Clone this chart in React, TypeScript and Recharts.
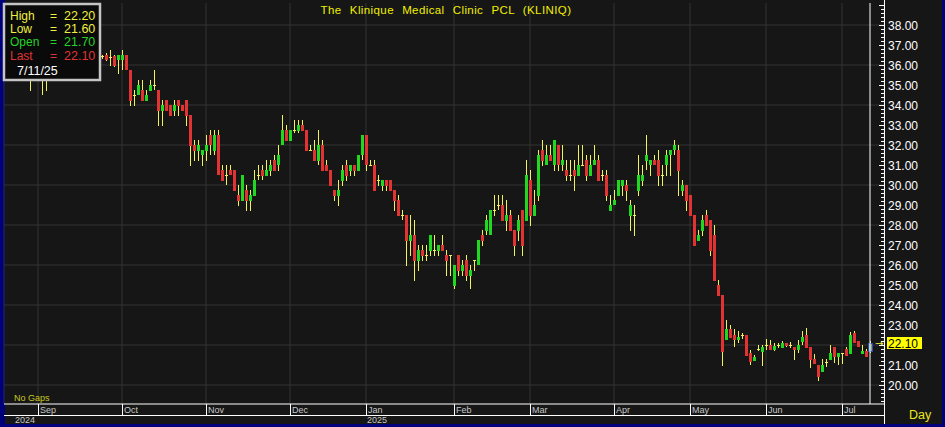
import { ComposedChart, Bar, XAxis, YAxis, CartesianGrid, ReferenceLine } from "recharts"

// daily candles, 2024-08 .. 2025-07-11 (one entry per trading day)
const opens = [
    35.8, 36.1, 36.3, 35.9, 35.7, 35.9, 35.8, 35.5, 35.75, 35.5,
    35.6, 35.8, 36.0, 35.9, 36.2, 36.4, 36.25, 36.0, 36.2, 36.5,
    36.3, 36.1, 36.3, 36.5, 36.45, 36.5, 36.4, 36.45, 36.25, 36.25,
    36.5, 35.75, 34.5, 34.5, 34.75, 34.2, 34.7, 35.0, 34.75, 33.7,
    34.25, 34.0, 33.7, 34.25, 34.0, 34.25, 33.5, 32.0, 31.7, 31.5,
    31.7, 32.5, 31.7, 32.5, 30.75, 30.5, 30.75, 30.75, 29.5, 29.2,
    29.75, 29.2, 29.45, 30.5, 30.75, 30.45, 30.7, 31.25, 31.0, 32.0,
    32.75, 32.2, 32.75, 32.7, 33.0, 32.75, 31.75, 31.75, 31.2, 32.0,
    31.0, 30.75, 29.75, 29.45, 30.2, 31.0, 30.7, 31.0, 30.7, 31.5,
    32.5, 31.0, 31.0, 30.25, 29.97, 30.25, 30.25, 29.75, 29.25, 28.5,
    28.5, 27.2, 27.5, 26.2, 26.75, 26.5, 26.7, 26.75, 26.7, 27.0,
    26.5, 26.5, 24.97, 26.5, 25.7, 26.25, 25.45, 26.25, 26.0, 27.5,
    27.7, 27.5, 28.75, 29.0, 29.0, 28.2, 28.5, 27.75, 27.7, 28.75,
    28.2, 30.25, 28.45, 29.45, 31.75, 31.0, 31.5, 31.0, 32.0, 31.0,
    30.75, 30.5, 30.75, 30.45, 31.0, 31.25, 30.45, 31.0, 31.25, 30.5,
    30.5, 28.7, 29.0, 29.45, 29.97, 30.0, 28.45, 28.5, 29.7, 30.2,
    31.2, 31.0, 31.25, 31.25, 30.5, 31.0, 31.5, 31.75, 31.75, 29.7,
    30.0, 29.5, 28.5, 27.2, 27.7, 28.5, 28.25, 27.5, 25.0, 24.5,
    22.25, 22.8, 22.5, 22.25, 22.5, 22.5, 21.6, 21.2, 21.8, 21.65,
    22.0, 22.0, 21.75, 22.0, 21.85, 22.1, 22.0, 21.9, 21.75, 22.15,
    22.5, 21.9, 21.3, 21.0, 20.67, 21.17, 21.25, 21.9, 21.4, 21.6,
    21.8, 21.55, 22.6, 22.2, 21.55, 21.7, 21.7
]
const highs = [
    36.3, 36.5, 36.6, 36.2, 36.0, 36.2, 36.0, 35.9, 36.0, 35.8,
    35.9, 36.2, 36.3, 36.25, 36.6, 36.7, 36.5, 36.3, 36.6, 36.8,
    36.5, 36.4, 36.6, 36.7, 36.5, 36.6, 36.75, 36.5, 36.5, 36.75,
    36.5, 35.75, 34.75, 35.25, 35.25, 34.75, 35.25, 35.75, 34.75, 34.25,
    34.25, 34.0, 34.25, 34.25, 34.0, 34.25, 33.5, 32.25, 32.25, 31.75,
    32.5, 32.75, 32.75, 32.75, 31.0, 31.0, 31.0, 30.75, 30.0, 30.5,
    30.0, 29.75, 30.75, 31.0, 31.0, 31.25, 31.25, 31.5, 32.0, 33.5,
    33.0, 32.75, 33.25, 33.25, 33.25, 32.75, 32.0, 32.25, 32.75, 32.25,
    31.25, 30.75, 29.75, 30.25, 31.0, 31.25, 31.0, 31.0, 31.5, 32.5,
    32.5, 31.25, 31.25, 30.5, 30.25, 30.25, 30.25, 29.75, 29.5, 28.75,
    28.5, 28.5, 28.25, 27.0, 27.0, 27.0, 27.5, 27.5, 27.0, 27.5,
    26.75, 26.5, 26.0, 26.5, 26.25, 26.5, 26.0, 26.25, 27.25, 27.75,
    28.5, 28.75, 29.5, 29.5, 29.5, 29.25, 28.75, 27.75, 28.5, 28.75,
    31.25, 30.75, 29.75, 31.75, 32.25, 32.0, 32.0, 32.25, 32.0, 32.0,
    31.25, 31.25, 31.25, 32.0, 32.0, 31.5, 31.5, 32.0, 31.5, 30.75,
    30.75, 29.5, 29.75, 30.25, 30.25, 30.25, 29.25, 29.0, 31.5, 31.0,
    32.5, 31.25, 31.5, 31.75, 31.0, 31.75, 31.75, 32.25, 32.0, 30.25,
    30.0, 29.5, 28.5, 27.75, 28.5, 28.75, 28.25, 28.0, 25.25, 24.5,
    23.25, 23.0, 22.8, 22.7, 22.6, 22.5, 21.75, 21.5, 22.0, 22.0,
    22.3, 22.25, 22.1, 22.1, 22.2, 22.1, 22.15, 21.9, 22.25, 22.7,
    22.85, 21.9, 21.55, 21.0, 21.3, 21.3, 22.0, 21.9, 21.6, 21.6,
    21.9, 22.65, 22.7, 22.2, 22.0, 21.8, 22.2
]
const lows = [
    35.5, 35.9, 35.8, 35.5, 35.4, 35.6, 34.7, 35.3, 35.4, 34.5,
    34.7, 35.5, 35.7, 35.6, 36.0, 36.1, 35.9, 35.7, 36.0, 36.2,
    35.9, 35.8, 36.0, 36.2, 36.3, 36.2, 35.95, 35.9, 35.55, 35.75,
    35.75, 33.95, 33.95, 34.5, 34.2, 34.2, 34.7, 34.75, 32.95, 32.95,
    33.7, 33.45, 33.45, 33.45, 33.7, 32.95, 30.95, 31.2, 31.2, 30.95,
    31.2, 31.5, 31.5, 30.5, 30.2, 30.0, 30.5, 29.7, 28.95, 29.2,
    28.7, 28.7, 29.45, 30.25, 30.25, 30.45, 30.45, 30.7, 30.7, 32.0,
    32.2, 32.2, 32.6, 32.6, 32.7, 31.7, 31.7, 31.2, 31.0, 30.7,
    30.7, 29.97, 29.2, 28.95, 29.95, 30.2, 30.45, 30.45, 30.7, 31.25,
    30.7, 30.95, 29.7, 29.95, 29.7, 29.7, 29.7, 28.7, 28.45, 28.25,
    25.95, 26.45, 25.2, 25.7, 26.2, 26.2, 26.45, 26.45, 26.45, 26.7,
    25.45, 25.45, 24.8, 25.45, 25.45, 25.2, 24.8, 25.7, 26.0, 26.95,
    27.5, 27.5, 28.45, 28.75, 28.2, 27.7, 27.7, 26.45, 27.2, 26.45,
    28.2, 27.95, 28.45, 29.2, 30.95, 31.0, 31.2, 30.7, 30.7, 30.7,
    30.2, 30.2, 29.7, 30.45, 31.0, 30.2, 30.45, 31.0, 30.2, 30.2,
    29.2, 28.7, 29.0, 29.45, 29.45, 29.2, 27.7, 27.45, 29.45, 29.95,
    30.75, 30.45, 31.0, 29.95, 29.95, 30.45, 30.45, 31.5, 29.45, 29.45,
    28.7, 28.45, 26.97, 27.2, 27.45, 27.95, 26.45, 25.2, 24.45, 20.95,
    22.25, 22.35, 21.9, 22.1, 22.3, 21.47, 21.0, 21.2, 21.7, 20.96,
    21.75, 21.75, 21.7, 21.85, 21.85, 21.9, 21.85, 21.25, 21.6, 22.0,
    21.85, 20.85, 21.05, 20.2, 20.67, 20.9, 21.25, 21.1, 21.0, 21.05,
    21.47, 21.55, 22.1, 21.9, 21.55, 21.4, 21.6
]
const closes = [
    36.1, 36.3, 35.9, 35.7, 35.9, 35.8, 35.5, 35.75, 35.5, 35.6,
    35.8, 36.0, 35.9, 36.2, 36.4, 36.25, 36.0, 36.2, 36.5, 36.3,
    36.1, 36.3, 36.5, 36.3, 36.45, 36.25, 36.4, 35.95, 36.5, 36.5,
    35.75, 34.2, 34.5, 35.0, 34.2, 34.5, 35.0, 35.0, 33.7, 34.0,
    33.7, 33.45, 34.0, 33.95, 33.7, 33.45, 31.95, 31.7, 32.0, 31.75,
    32.0, 32.0, 32.5, 30.5, 30.2, 30.5, 30.5, 29.7, 29.2, 30.5,
    29.2, 29.5, 30.25, 30.5, 30.45, 30.75, 31.0, 30.7, 31.5, 32.75,
    32.2, 32.75, 32.75, 33.0, 32.7, 31.7, 31.75, 31.2, 32.0, 30.7,
    30.7, 29.97, 29.45, 29.75, 30.75, 30.45, 31.0, 30.7, 31.5, 32.5,
    31.0, 31.0, 29.7, 30.25, 30.25, 29.97, 29.7, 29.2, 28.45, 28.5,
    27.2, 27.5, 26.2, 26.75, 26.45, 26.5, 27.5, 26.75, 27.0, 26.7,
    26.2, 26.5, 26.0, 25.7, 26.0, 25.45, 25.75, 26.25, 27.25, 27.2,
    28.25, 28.75, 28.75, 29.0, 28.2, 28.5, 27.7, 26.95, 28.25, 26.97,
    30.5, 28.45, 29.0, 31.5, 31.2, 31.5, 31.2, 32.25, 31.0, 31.25,
    30.45, 30.5, 30.45, 31.0, 31.0, 30.45, 31.0, 31.25, 30.2, 30.5,
    29.45, 29.0, 29.25, 30.25, 30.25, 29.7, 29.0, 28.5, 30.5, 30.5,
    31.5, 31.25, 31.0, 30.45, 30.5, 31.5, 31.75, 32.0, 30.7, 30.0,
    29.2, 28.45, 26.97, 27.5, 28.25, 27.95, 26.7, 25.2, 24.45, 21.67,
    22.8, 22.35, 22.25, 22.4, 22.5, 21.47, 21.17, 21.4, 21.8, 21.9,
    22.0, 21.75, 21.95, 22.0, 22.1, 21.95, 22.0, 21.75, 22.0, 22.4,
    21.85, 21.25, 21.05, 20.4, 21.0, 21.17, 21.6, 21.4, 21.6, 21.6,
    21.47, 22.5, 22.1, 21.9, 21.7, 21.4, 22.1
]

const monthStarts = [8, 29, 50, 71, 90, 112, 131, 152, 171, 190, 209]
const monthLabels = ["Sep", "Oct", "Nov", "Dec", "Jan", "Feb", "Mar", "Apr", "May", "Jun", "Jul"]
const yearStarts = [8, 90]
const yearLabels = ["2024", "2025"]
const priceLabels = [20, 21, 22, 23, 24, 25, 26, 27, 28, 29, 30, 31, 32, 33, 34, 35, 36, 37, 38]
const gridPrices = [20, 22, 24, 26, 28, 30, 32, 34, 36, 38]
const lastPrice = 22.1
const quoteRows = [
    { name: "High", value: "22.20", color: "#f0f040" },
    { name: "Low", value: "21.60", color: "#f0f040" },
    { name: "Open", value: "21.70", color: "#28d228" },
    { name: "Last", value: "22.10", color: "#e03434" }
]
const quoteDate = "7/11/25"
const title = "The Klinique Medical Clinic PCL (KLINIQ)"

const EMPTY_SLOTS = 3
const lastIndex = opens.length - 1

const data: any[] = opens.map((o, i) => ({ i, open: o, high: highs[i], low: lows[i], close: closes[i] }))
for (let k = 0; k < EMPTY_SLOTS; k++) data.push({ i: opens.length + k })

// minor ticks every 0.2 on the right scale, every 0.3 on the left strip
const rightTicks: number[] = []
for (let t = 96; t <= 195; t++) rightTicks.push(+(t * 0.2).toFixed(1))
const leftTicks: number[] = []
for (let t = 64; t <= 130; t++) leftTicks.push(+(t * 0.3).toFixed(1))

const FONT = "'Liberation Sans', Arial, sans-serif"
const BG = "#161616"
const NAVY = "#00007c"
const UP = "#20d820"
const DOWN = "#e23232"
const WICK = "#f2f25a"
const PLOT_RIGHT = 884
const DOMAIN: [number, number] = [19.05, 39.1]

function Candle(props: any) {
    const { x, y, width, height, payload } = props
    if (!payload || payload.open == null) return null
    const { open, high, low, close, i } = payload
    const top = Math.min(y, y + height)
    const h = Math.abs(height)
    const k = high > low ? h / (high - low) : 0
    const yOf = (v: number) => top + (high - v) * k
    const wx = Math.round(x + width / 2 - 0.5)
    const wTop = Math.round(top)
    const wBot = Math.max(Math.round(top + h), wTop + 1)
    const bTop = Math.round(yOf(Math.max(open, close)))
    const bBot = Math.round(yOf(Math.min(open, close)))
    const isLast = i === lastIndex

    let body
    if (isLast) {
        body = <rect x={wx - 1.5} y={bTop + 0.5} width={4} height={Math.max(bBot - bTop, 1)} fill="#7fa07f" stroke="#2e48b8" />
    } else if (open === close) {
        body = <rect x={wx - 1} y={bTop} width={3} height={1} fill={WICK} />
    } else {
        body = <rect x={wx - 1} y={bTop} width={3} height={Math.max(bBot - bTop, 1)} fill={close > open ? UP : DOWN} />
    }
    return (
        <g shapeRendering="crispEdges">
            <rect x={wx} y={wTop} width={1} height={wBot - wTop} fill={WICK} />
            {body}
        </g>
    )
}

function PriceTick(props: any) {
    const { x, y, payload } = props
    const v = payload.value
    const label = priceLabels.find(p => Math.abs(p - v) < 0.001)
    // the yellow last-price tag covers the label next to it
    const covered = label !== undefined && Math.abs(label - lastPrice) < 0.5
    const major = Math.abs(v - Math.round(v)) < 0.001
    const yy = Math.round(y) + 0.5
    return (
        <g>
            <line x1={x - (major ? 5 : 3)} x2={x} y1={yy} y2={yy} stroke="#ffffff" />
            {label !== undefined && !covered && (
                <text x={x + 4} y={y} dy={4.5} fontSize={12} fontFamily={FONT} fill="#ffffff">
                    {label.toFixed(2)}
                </text>
            )}
        </g>
    )
}

function LeftTick(props: any) {
    const { y } = props
    const yy = Math.round(y) + 0.5
    return <line x1={2} x2={6} y1={yy} y2={yy} stroke="#ffffff" />
}

function MonthTick(props: any) {
    const { x, y, payload } = props
    const m = monthStarts.indexOf(payload.value)
    const yr = yearStarts.indexOf(payload.value)
    const xx = Math.round(x) + 0.5
    return (
        <g>
            <line x1={xx} x2={xx} y1={y} y2={y + 11} stroke="#ffffff" />
            <text x={x + 2} y={y + 9} fontSize={9} fontFamily={FONT} fill="#c8c8c8">
                {monthLabels[m]}
            </text>
            {yr >= 0 && (
                <text x={yr === 0 ? x - 23 : x + 1} y={y + 19} fontSize={9} fontFamily={FONT} fill="#c8c8c8">
                    {yearLabels[yr]}
                </text>
            )}
        </g>
    )
}

function PriceTag(props: any) {
    const vb = props.viewBox || {}
    const right = vb.x + vb.width
    const y = vb.y
    return (
        <g>
            <text x={right - 9} y={y} dy={3.5} fontSize={10} fontFamily="'DejaVu Sans', sans-serif" fill="#f0f040">
                →
            </text>
            <rect x={right + 3} y={y - 6} width={35} height={12} fill="#ffff00" />
            <text x={right + 4} y={y} dy={4.5} fontSize={12} fontFamily={FONT} fill="#000000">
                {lastPrice.toFixed(2)}
            </text>
        </g>
    )
}

export default function App() {
    return (
        <div style={{ position: "fixed", left: 0, top: 0, width: 945, height: 427, background: NAVY, overflow: "hidden" }}>
            <div style={{ position: "absolute", left: 5, top: 0, width: 937, height: 424, background: BG }} />
            <div style={{ position: "absolute", left: 0, top: 0 }}>
                <ComposedChart
                    width={942}
                    height={424}
                    data={data}
                    margin={{ top: 3, right: 0, bottom: 0, left: 0 }}
                    barCategoryGap={0}
                    barGap={0}
                >
                    <CartesianGrid stroke="#333333" horizontalValues={gridPrices} />
                    <XAxis
                        dataKey="i"
                        type="category"
                        ticks={monthStarts}
                        interval={0}
                        height={20}
                        tickSize={0}
                        tickMargin={0}
                        axisLine={{ stroke: "#ffffff" }}
                        tick={<MonthTick />}
                    />
                    <YAxis
                        yAxisId="L"
                        orientation="left"
                        width={4}
                        domain={DOMAIN}
                        ticks={leftTicks}
                        interval={0}
                        tickSize={0}
                        axisLine={false}
                        tick={<LeftTick />}
                    />
                    <YAxis
                        orientation="right"
                        width={58}
                        domain={DOMAIN}
                        ticks={rightTicks}
                        interval={0}
                        tickSize={0}
                        tickMargin={0}
                        axisLine={false}
                        tick={<PriceTick />}
                    />
                    <ReferenceLine x={lastIndex} stroke="#ffffff" />
                    <Bar
                        dataKey={(d: any) => (d.open == null ? null : [d.low, d.high])}
                        shape={<Candle />}
                        isAnimationActive={false}
                    />
                    <ReferenceLine y={lastPrice} stroke="none" label={<PriceTag />} />
                </ComposedChart>
            </div>
            <svg width={945} height={427} style={{ position: "absolute", left: 0, top: 0, pointerEvents: "none" }}>
                <line x1={PLOT_RIGHT + 0.5} x2={PLOT_RIGHT + 0.5} y1={0} y2={424} stroke="#ffffff" />
                <line x1={4} x2={PLOT_RIGHT} y1={415.5} y2={415.5} stroke="#ffffff" />
                <text x={446} y={14} textAnchor="middle" fontSize={11.5} fontFamily={FONT} fill="#f0f000" wordSpacing={4.6} letterSpacing={0.4}>
                    {title}
                </text>
                <text x={14} y={401} fontSize={9} fontFamily={FONT} fill="#c8c820">
                    No Gaps
                </text>
                <text x={909} y={419} fontSize={12.5} fontFamily={FONT} fill="#e8e820">
                    Day
                </text>
                <rect x={4} y={4} width={96} height={76} fill="#0a0a0a" stroke="#c4c4c4" strokeWidth={2.5} />
                {quoteRows.map((r, k) => (
                    <g key={r.name}>
                        <text x={10} y={20 + k * 13.2} fontSize={12} fontFamily={FONT} fill={r.color}>
                            {r.name}
                        </text>
                        <text x={50} y={20 + k * 13.2} fontSize={12} fontFamily={FONT} fill={r.color}>
                            =
                        </text>
                        <text x={64} y={20 + k * 13.2} fontSize={12.5} fontFamily={FONT} fill={r.color}>
                            {r.value}
                        </text>
                    </g>
                ))}
                <text x={17} y={75} fontSize={12.5} fontFamily={FONT} fill="#ffffff">
                    {quoteDate}
                </text>
            </svg>
        </div>
    )
}
